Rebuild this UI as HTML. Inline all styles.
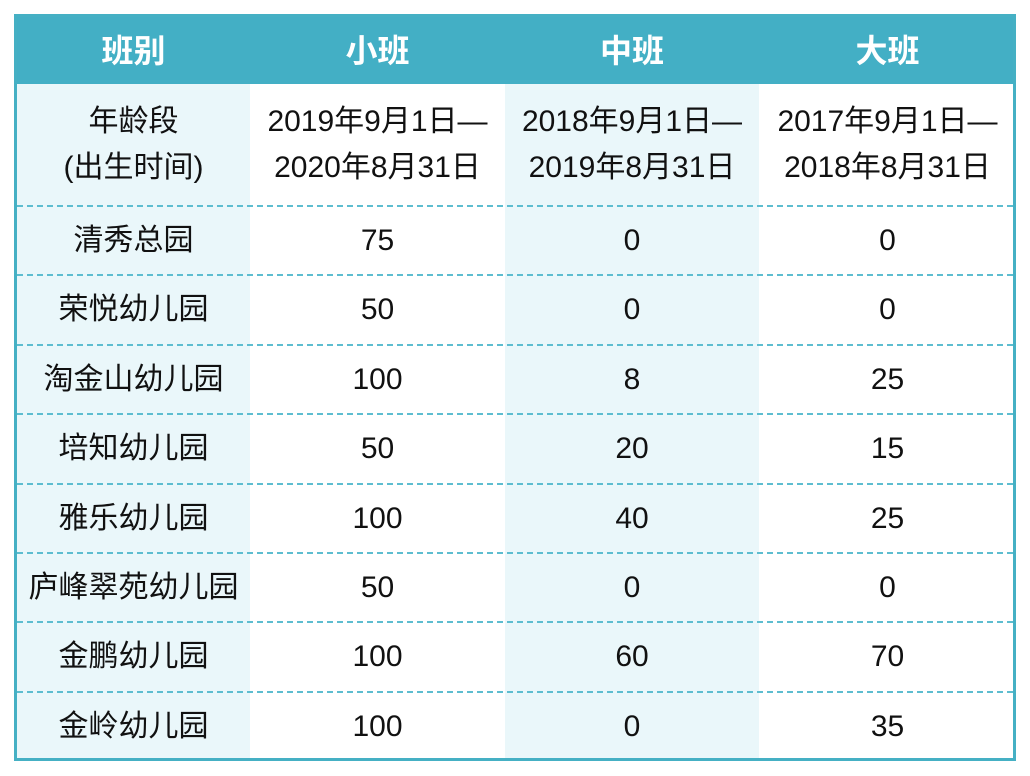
<!DOCTYPE html>
<html><head><meta charset="utf-8"><style>
body{margin:0;width:1030px;height:776px;background:#fff;font-family:"Liberation Sans","Noto Sans CJK SC",sans-serif;position:relative;overflow:hidden}
#t{position:absolute;left:14px;top:14px;width:996px;height:741px;border:3px solid #45b0c4;overflow:hidden}
.c{position:absolute;display:flex;align-items:center;justify-content:center;text-align:center;font-size:30px;color:#111;line-height:46px}
.h{background:#43afc5;color:#fff;font-weight:bold;font-size:32px}
.bg{position:absolute;top:67px;bottom:0;background:#eaf7fa}
.ln{position:absolute;left:0;right:0;border-top:2px dashed #5dbdd0;height:0}
</style></head><body>
<div id="t"></div>
<script>
const headers=["班别","小班","中班","大班"];
const ageRow=["年龄段<br>(出生时间)","2019年9月1日—<br>2020年8月31日","2018年9月1日—<br>2019年8月31日","2017年9月1日—<br>2018年8月31日"];
const schools=["清秀总园","荣悦幼儿园","淘金山幼儿园","培知幼儿园","雅乐幼儿园","庐峰翠苑幼儿园","金鹏幼儿园","金岭幼儿园"];
const small=[75,50,100,50,100,50,100,100];
const middle=[0,0,8,20,40,0,60,0];
const large=[0,0,25,15,25,0,70,35];
const t=document.getElementById('t');
const colX=[0,233,488,742,999];
const rowY=[0,67,189];const rh=69.4;
for(let i=0;i<8;i++)rowY.push(Math.round(189+rh*(i+1)));
[0,2].forEach(ci=>{const b=document.createElement('div');b.className='bg';


b.style.left=colX[ci]+'px';b.style.width=(colX[ci+1]-colX[ci])+'px';t.appendChild(b);});
function cell(ci,ri,html,cls,name){const d=document.createElement('div');d.className='c '+(cls||'');


d.style.left=colX[ci]+'px';d.style.width=(colX[ci+1]-colX[ci])+'px';
d.style.top=rowY[ri]+'px';d.style.height=(rowY[ri+1]-rowY[ri])+'px';d.innerHTML=html;t.appendChild(d);}
headers.forEach((h,i)=>cell(i,0,h,'h','header-cell'));
ageRow.forEach((h,i)=>cell(i,1,h,'','age-range-cell'));
schools.forEach((s,r)=>{cell(0,r+2,s,'','school-name');cell(1,r+2,small[r],'','small-class-count');cell(2,r+2,middle[r],'','middle-class-count');cell(3,r+2,large[r],'','large-class-count');
});
for(let r=2;r<=9;r++){const l=document.createElement('div');l.className='ln';


l.style.top=(rowY[r]-1)+'px';t.appendChild(l);}
</script>
</body></html>
